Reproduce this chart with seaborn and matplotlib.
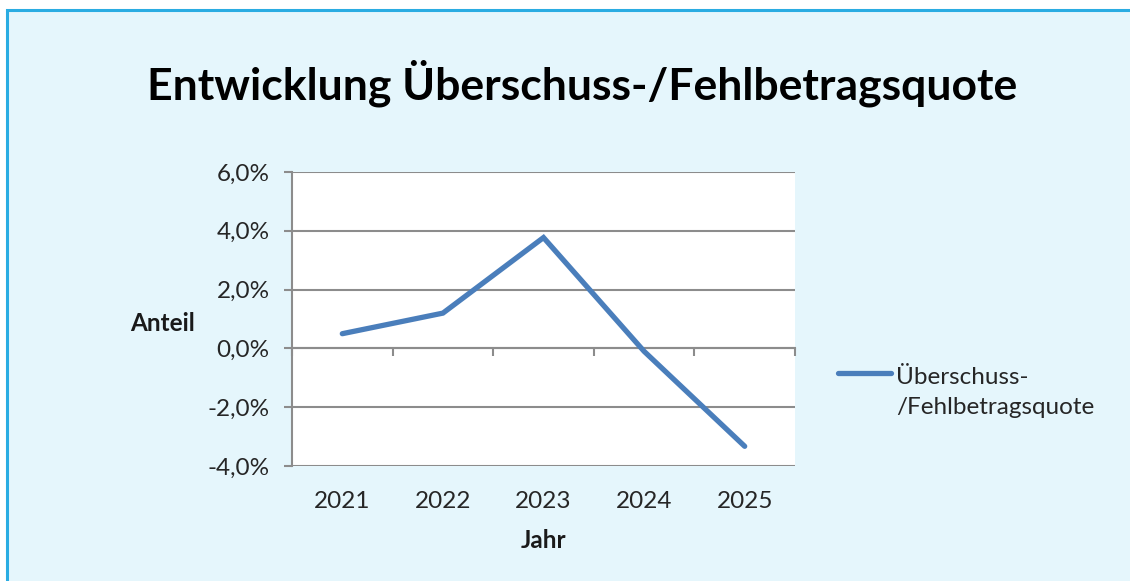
import matplotlib
matplotlib.use("Agg")
import matplotlib.pyplot as plt
import matplotlib.patches as mpatches
from matplotlib.ticker import FuncFormatter, FixedLocator
import seaborn as sns
import pandas as pd

years = ["2021", "2022", "2023", "2024", "2025"]
quote = [0.5, 1.2, 3.77, -0.1, -3.33]
series_name = "Überschuss-\n/Fehlbetragsquote"
title = "Entwicklung Überschuss-/Fehlbetragsquote"
y_ticks = [-4, -2, 0, 2, 4, 6]

sns.set_theme(style="white")
plt.rcParams['font.family'] = ['Lato', 'DejaVu Sans']

df = pd.DataFrame({"Jahr": years, "Anteil": quote, "Reihe": series_name})

fig = plt.figure(figsize=(11.3, 5.81), dpi=100, facecolor="white")
bg = mpatches.Rectangle((7 / 1130, -0.1), 1.2, 1.1 - 10 / 581,
                        transform=fig.transFigure, facecolor="#E5F6FC",
                        edgecolor="#2AACE2", linewidth=2.2, zorder=-10)
fig.patches.append(bg)

ax = fig.add_axes([292 / 1130, 1 - 466 / 581, 503 / 1130, 294 / 581])
ax.set_facecolor("white")

sns.lineplot(data=df, x="Jahr", y="Anteil", hue="Reihe", palette=["#4A7EBB"],
             linewidth=3.8, ax=ax, legend=True, zorder=5)
for ln in ax.lines:
    ln.set_solid_capstyle("round")
    ln.set_solid_joinstyle("miter")

ax.set_xlim(-0.5, len(years) - 0.5)
ax.set_ylim(-4, 6)
ax.yaxis.set_major_locator(FixedLocator(y_ticks))
ax.yaxis.set_major_formatter(FuncFormatter(lambda v, p: f"{v:.1f}%".replace(".", ",")))

grid_c = "#8C8C8C"
txt_c = "#262626"
fs = 17.5
ax.grid(axis="y", color=grid_c, linewidth=1.5)
ax.grid(axis="x", visible=False)
ax.set_axisbelow(True)
for s in ["top", "right", "bottom"]:
    ax.spines[s].set_visible(False)
ax.spines["left"].set_color(grid_c)
ax.spines["left"].set_linewidth(1.5)

ax.tick_params(axis="y", direction="out", length=6, width=1.5, color=grid_c,
               labelsize=fs, labelcolor=txt_c, pad=10, left=True)
ax.tick_params(axis="x", length=0, labelsize=fs, labelcolor=txt_c, pad=18)

# category axis crossing at zero with ticks between categories
sec = ax.secondary_xaxis(0.4)
sec.set_xticks([i - 0.5 for i in range(len(years) + 1)])
sec.set_xticklabels([])
sec.tick_params(axis="x", direction="out", length=6, width=1.5, color=grid_c)
sec.spines["bottom"].set_color(grid_c)
sec.spines["bottom"].set_linewidth(1.5)

ax.set_xlabel("Jahr", fontsize=fs, fontweight="bold", color="#1a1a1a", labelpad=12)
ax.set_ylabel("Anteil", fontsize=fs, fontweight="bold", color="#1a1a1a",
              rotation=0, ha="center", va="center")
ax.yaxis.set_label_coords(-0.258, 0.485)

fig.text(582 / 1130, 1 - 83 / 581, title, ha="center", va="center",
         fontsize=32, fontweight="bold", color="black")

leg = ax.legend(loc="upper left", bbox_to_anchor=(838 / 1130, 1 - 367 / 581),
                bbox_transform=fig.transFigure, frameon=False, fontsize=fs,
                handlelength=2.2, handletextpad=0.2, labelcolor=txt_c,
                borderaxespad=0, borderpad=0)
for t in leg.get_texts():
    t.set_linespacing(1.53)
for h in leg.get_lines():
    h.set_linewidth(3.8)
    h.set_solid_capstyle("round")
    yd = h.get_ydata()
    h.set_ydata([v + 13.7 for v in yd])

fig.savefig("out.png", dpi=100, facecolor=fig.get_facecolor())
